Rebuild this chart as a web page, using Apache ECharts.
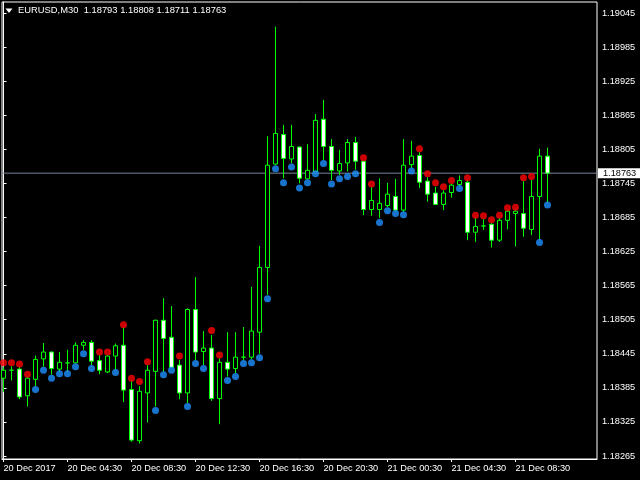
<!DOCTYPE html>
<html><head><meta charset="utf-8">
<script src="https://cdn.jsdelivr.net/npm/echarts@6/dist/echarts.min.js"></script>
<style>html,body{margin:0;padding:0;background:#000}#c{width:640px;height:480px}</style>
</head><body><div id="c"></div>
<script>
const headerSymbol = 'EURUSD,M30';
const headerValues = '1.18793 1.18808 1.18711 1.18763';
const lastPrice = 1.18763;

const opens = [
1.18402,1.18416,1.18418,1.18371,1.18400,1.18436,1.18448,1.18418,1.18429,1.18429,
1.18460,1.18465,1.18433,1.18413,1.18441,1.18460,1.18382,1.18292,1.18376,1.18414,
1.18504,1.18474,1.18425,1.18376,1.18523,1.18449,1.18455,1.18366,1.18430,1.18419,
1.18439,1.18439,1.18483,1.18597,1.18779,1.18831,1.18788,1.18809,1.18753,1.18766,
1.18858,1.18810,1.18767,1.18781,1.18817,1.18784,1.18699,1.18699,1.18706,1.18722,
1.18698,1.18778,1.18794,1.18749,1.18728,1.18708,1.18729,1.18743,1.18747,1.18659,
1.18670,1.18673,1.18645,1.18680,1.18692,1.18692,1.18664,1.18722,1.18793];
const closes = [
1.18416,1.18416,1.18369,1.18402,1.18435,1.18448,1.18419,1.18430,1.18429,1.18460,
1.18465,1.18432,1.18416,1.18441,1.18459,1.18381,1.18293,1.18379,1.18416,1.18504,
1.18472,1.18421,1.18376,1.18523,1.18448,1.18455,1.18366,1.18430,1.18418,1.18439,
1.18439,1.18485,1.18597,1.18777,1.18833,1.18789,1.18810,1.18754,1.18768,1.18856,
1.18810,1.18768,1.18780,1.18817,1.18784,1.18699,1.18715,1.18710,1.18726,1.18698,
1.18777,1.18793,1.18747,1.18726,1.18708,1.18728,1.18742,1.18750,1.18659,1.18669,
1.18670,1.18645,1.18680,1.18696,1.18696,1.18666,1.18722,1.18793,1.18763];
const highs = [
1.18422,1.18423,1.18422,1.18405,1.18442,1.18464,1.18449,1.18448,1.18452,1.18465,
1.18469,1.18469,1.18443,1.18443,1.18463,1.18492,1.18398,1.18388,1.18425,1.18505,
1.18543,1.18529,1.18434,1.18525,1.18580,1.18485,1.18478,1.18437,1.18483,1.18483,
1.18492,1.18563,1.18635,1.18828,1.19021,1.18848,1.18848,1.18810,1.18814,1.18867,
1.18892,1.18823,1.18804,1.18823,1.18827,1.18785,1.18739,1.18754,1.18746,1.18753,
1.18823,1.18820,1.18800,1.18756,1.18739,1.18733,1.18745,1.18759,1.18751,1.18685,
1.18682,1.18675,1.18684,1.18699,1.18699,1.18749,1.18751,1.18806,1.18808];
const lows = [
1.18378,1.18398,1.18365,1.18352,1.18388,1.18422,1.18408,1.18413,1.18413,1.18428,
1.18452,1.18425,1.18409,1.18411,1.18416,1.18360,1.18290,1.18287,1.18324,1.18352,
1.18413,1.18420,1.18365,1.18358,1.18434,1.18425,1.18362,1.18321,1.18405,1.18411,
1.18433,1.18435,1.18445,1.18549,1.18777,1.18754,1.18780,1.18745,1.18752,1.18765,
1.18786,1.18751,1.18760,1.18766,1.18769,1.18689,1.18688,1.18684,1.18703,1.18695,
1.18695,1.18772,1.18737,1.18713,1.18707,1.18698,1.18720,1.18739,1.18645,1.18642,
1.18663,1.18632,1.18642,1.18664,1.18634,1.18651,1.18654,1.18645,1.18711];
const upperDots = [
1.18429,1.18429,1.18427,1.18409,null,null,null,null,null,null,
null,null,1.18448,1.18448,null,1.18496,1.18402,1.18396,1.18431,null,
null,null,1.18441,null,null,null,1.18486,1.18443,null,null,
null,null,null,null,null,null,null,null,null,null,
null,null,null,null,null,1.18790,1.18744,null,null,null,
null,null,1.18806,1.18762,1.18746,1.18739,1.18750,null,1.18755,1.18689,
1.18688,1.18681,1.18689,1.18702,1.18703,1.18755,1.18757,null,null];
const lowerDots = [
null,null,null,null,1.18382,1.18416,1.18402,1.18410,1.18410,1.18422,
1.18445,1.18419,null,null,1.18412,null,null,null,null,1.18345,
1.18408,1.18416,null,1.18352,1.18428,1.18419,null,null,1.18398,1.18405,
1.18428,1.18429,1.18438,1.18542,1.18771,1.18746,1.18774,1.18737,1.18746,1.18762,
1.18780,1.18744,1.18753,1.18757,1.18762,null,null,1.18676,1.18697,1.18692,
1.18690,1.18767,null,null,null,null,null,1.18736,null,null,
null,null,null,null,null,null,null,1.18641,1.18707];
const timeTickIdx = [0,8,16,24,32,40,48,56,64];
const timeTickText = ['20 Dec 2017','20 Dec 04:30','20 Dec 08:30','20 Dec 12:30','20 Dec 16:30','20 Dec 20:30','21 Dec 00:30','21 Dec 04:30','21 Dec 08:30'];
const priceTicks = [1.19045,1.18985,1.18925,1.18865,1.18805,1.18745,1.18685,1.18625,1.18565,1.18505,1.18445,1.18385,1.18325,1.18265];

const FONT = '"Liberation Sans", Arial, sans-serif';
const X_MIN = -0.1875, X_MAX = 74.1875;
const candleData = opens.map((o, i) => [i, o, closes[i], lows[i], highs[i]]);
const upData = []; upperDots.forEach((v, i) => { if (v != null) upData.push([i, v]); });
const loData = []; lowerDots.forEach((v, i) => { if (v != null) loData.push([i, v]); });

const chart = echarts.init(document.getElementById('c'), null, {renderer: 'canvas'});
chart.setOption({
  animation: false,
  backgroundColor: '#000',
  title: {
    text: headerSymbol + '  ' + headerValues,
    left: 18, top: 6, padding: 0,
    textStyle: {color: '#fff', fontSize: 9.4, fontWeight: 'normal', fontFamily: FONT}
  },
  graphic: [{type: 'polygon', shape: {points: [[5.5,8.5],[12.5,8.5],[9,13]]}, style: {fill: '#fff'}, silent: true}],
  grid: {left: 2, right: 43, top: 2, bottom: 21, show: true, borderColor: '#fff', borderWidth: 1, backgroundColor: '#000'},
  xAxis: {
    type: 'value', min: X_MIN, max: X_MAX,
    axisLine: {show: true, lineStyle: {color: '#fff', width: 1}},
    axisTick: {show: true, length: 3, lineStyle: {color: '#fff'}, customValues: timeTickIdx},
    axisLabel: {
      customValues: timeTickIdx, color: '#fff', fontSize: 9.2, fontFamily: FONT, align: 'left', margin: 5,
      formatter: v => { const i = timeTickIdx.indexOf(Math.round(v)); return i >= 0 ? timeTickText[i] : ''; }
    },
    splitLine: {show: false}
  },
  yAxis: {
    type: 'value', position: 'right',
    min: 1.182597, max: 1.190644,
    axisLine: {show: true, lineStyle: {color: '#fff', width: 1}},
    axisTick: {show: true, length: 3, lineStyle: {color: '#fff'}, customValues: priceTicks},
    axisLabel: {customValues: priceTicks, color: '#fff', fontSize: 9.2, fontFamily: FONT, margin: 5,
      formatter: v => v.toFixed(5)},
    splitLine: {show: false}
  },
  series: [
    {
      type: 'line', data: [[X_MIN, lastPrice], [X_MAX, lastPrice]], showSymbol: false, symbol: 'none',
      lineStyle: {color: '#778899', width: 1}, z: 1, clip: false, silent: true,
      endLabel: {show: true, formatter: lastPrice.toFixed(5), color: '#000', backgroundColor: '#fff',
        padding: [1, 8, 0, 5], fontSize: 9.2, fontFamily: FONT, distance: 1}
    },
    {
      type: 'candlestick',
      data: candleData,
      dimensions: ['idx','open','close','lowest','highest'],
      encode: {x: 'idx', y: ['open','close','lowest','highest']},
      barWidth: 4, z: 2,
      itemStyle: {color: '#000', color0: '#fff', borderColor: '#00ff00', borderColor0: '#00ff00', borderColorDoji: '#00ff00', borderWidth: 1}
    },
    {type: 'scatter', data: upData, symbol: 'circle', symbolSize: 7, itemStyle: {color: '#ff0000'}, z: 3},
    {type: 'scatter', data: loData, symbol: 'circle', symbolSize: 7, itemStyle: {color: '#1e90ff'}, z: 3}
  ]
});
</script></body></html>
